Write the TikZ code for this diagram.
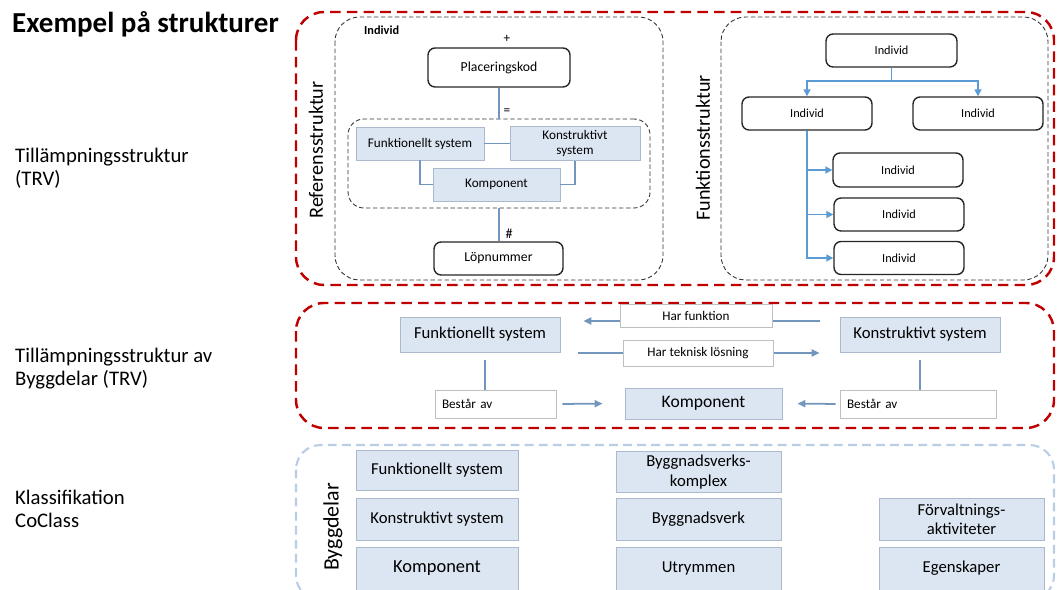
\documentclass[tikz,border=0pt]{standalone}
\usepackage{fontspec}
\setmainfont{Carlito}
\usetikzlibrary{arrows.meta,positioning,calc}
\definecolor{framered}{RGB}{192,0,0}
\definecolor{boxblue}{RGB}{220,230,242}
\definecolor{boxedge}{RGB}{170,185,205}
\definecolor{linkblue}{RGB}{91,155,213}
\definecolor{steelline}{RGB}{115,150,190}
\definecolor{paleframe}{RGB}{185,205,228}

\begin{document}
\begin{tikzpicture}[x=0.02cm, y=-0.02cm, >=latex,
  redframe/.style={draw=framered, line width=1.4pt, dash pattern=on 6pt off 3.5pt,
                   rounded corners=16pt},
  blackframe/.style={draw=black!80, line width=0.5pt, dash pattern=on 2.5pt off 1.5pt,
                     rounded corners=14pt},
  paleframe/.style={draw=paleframe, line width=1.2pt, dash pattern=on 5pt off 3pt,
                    rounded corners=14pt},
  ibox/.style={draw=black!85, line width=0.8pt, rounded corners=4pt, fill=white,
               inner sep=2pt, font=\fontsize{7.8}{9}\selectfont},
  bbox/.style={draw=boxedge, line width=0.5pt, fill=boxblue, align=center,
               inner sep=2pt},
  tag/.style={draw=black!25, line width=0.5pt, fill=white, inner sep=2pt},
  link/.style={draw=steelline, line width=1pt},
  tree/.style={draw=linkblue, line width=0.9pt, -{Triangle[length=4pt, width=4pt]}},
  rel/.style={draw=steelline, line width=1pt, -{Triangle[length=4.5pt, width=4pt]}},
  side/.style={anchor=west, align=left, font=\fontsize{11.8}{13}\selectfont},
  ]

\useasboundingbox (0,0) rectangle (1057,590);

% ======================================================================
% LEFT: title and row labels
% ======================================================================
\node[anchor=west, font=\bfseries\fontsize{16.5}{18}\selectfont]
  (title) at (6,24) {Exempel på strukturer};
\node[side] (rowA) at (9,168.5) {Tillämpningsstruktur\\(TRV)};
\node[side] (rowB) at (9,368.5) {Tillämpningsstruktur av\\Byggdelar (TRV)};
\node[side] (rowC) at (9,509) {Klassifikation\\CoClass};

% ======================================================================
% TOP: reference structure and function structure
% ======================================================================
\draw[redframe] (296,12) rectangle (1054,285);

% --- Referensstruktur ---
\draw[blackframe] (335,17) rectangle (663,280);
\node[rotate=90, font=\fontsize{11.5}{13}\selectfont]
  (reflabel) at (316,150) {Referensstruktur};
\node[anchor=west, font=\bfseries\fontsize{7}{8}\selectfont]
  (indlabel) at (358,30) {Individ};

\node[ibox, minimum width=2.84cm, minimum height=0.78cm]
  (plac) at (499,67.5) {Placeringskod};
\node[font=\fontsize{7.5}{8}\selectfont] (plus) at (507,39) {+};

\node[blackframe, rounded corners=9pt, minimum width=6.04cm, minimum height=1.78cm]
  (grp) at (499,163.5) {};
\node[bbox, minimum width=2.56cm, minimum height=0.66cm, font=\fontsize{7.5}{8}\selectfont]
  (funk) at (420,143.5) {Funktionellt system};
\node[bbox, minimum width=2.6cm, minimum height=0.66cm, font=\fontsize{7.5}{8.5}\selectfont]
  (konstr) at (575,143.5) {Konstruktivt\\system};
\node[bbox, minimum width=2.54cm, minimum height=0.66cm, font=\fontsize{7.5}{8}\selectfont]
  (komp) at (496.5,184.5) {Komponent};
\node[ibox, minimum width=2.58cm, minimum height=0.66cm]
  (lop) at (498.5,258.5) {Löpnummer};

\node[font=\fontsize{7.5}{8}\selectfont] (eq) at (507,112) {=};
\node[font=\fontsize{8}{9}\selectfont] (hash) at (509,234) {\#};

\draw[link] (plac.south) -- (grp.north);
\draw[link] (grp.south) -- (grp.south |- lop.north);
\draw[link] (funk.east) -- (konstr.west);
\draw[link] (funk.south) |- (komp.west);
\draw[link] (konstr.south) |- (komp.east);

% --- Funktionsstruktur ---
\draw[blackframe] (721,17) rectangle (1048,280);
\node[rotate=90, font=\fontsize{11.5}{13}\selectfont]
  (funclabel) at (703,148) {Funktionsstruktur};

\node[ibox, minimum width=2.62cm, minimum height=0.66cm, font=\fontsize{7}{8}\selectfont]
  (ind0) at (891.5,50.5) {Individ};
\node[ibox, minimum width=2.6cm, minimum height=0.66cm, font=\fontsize{7}{8}\selectfont]
  (ind1) at (807,113.5) {Individ};
\node[ibox, minimum width=2.6cm, minimum height=0.66cm, font=\fontsize{7}{8}\selectfont]
  (ind2) at (978,113.5) {Individ};
\node[ibox, minimum width=2.6cm, minimum height=0.68cm, font=\fontsize{7}{8}\selectfont]
  (ind3) at (898,170) {Individ};
\node[ibox, minimum width=2.6cm, minimum height=0.66cm, font=\fontsize{7}{8}\selectfont]
  (ind4) at (899,214.5) {Individ};
\node[ibox, minimum width=2.6cm, minimum height=0.66cm, font=\fontsize{7}{8}\selectfont]
  (ind5) at (899,258) {Individ};

\coordinate (split) at (891.5,81);
\draw[tree] (ind0.south) -- (split) -| (ind1.north);
\draw[tree] (split) -| (ind2.north);
\foreach \n in {ind3, ind4, ind5} {
  \draw[tree] (ind1.south) |- (\n.west);
}

% ======================================================================
% MIDDLE: building parts
% ======================================================================
\draw[redframe] (296,303) rectangle (1054,428);

\node[bbox, minimum width=3.2cm, minimum height=0.7cm, font=\fontsize{9.5}{10}\selectfont]
  (mfunk) at (480,334.5) {Funktionellt system};
\node[bbox, minimum width=3.2cm, minimum height=0.7cm, font=\fontsize{9.5}{10}\selectfont]
  (mkonstr) at (920,334.5) {Konstruktivt system};
\node[bbox, minimum width=3.14cm, minimum height=0.62cm, font=\fontsize{10}{11}\selectfont]
  (mkomp) at (703.5,403.5) {Komponent};

\draw[rel, shorten <=0.4cm, shorten >=0.46cm]
  ([yshift=0.27cm]mkonstr.west) -- ([yshift=0.27cm]mfunk.east);
\draw[rel, shorten <=0.36cm, shorten >=0.4cm]
  ([yshift=-0.37cm]mfunk.east) -- ([yshift=-0.37cm]mkonstr.west);

\node[tag, minimum width=3.04cm, minimum height=0.46cm, font=\fontsize{7.5}{8}\selectfont]
  (harfunk) at (696,315.5) {Har funktion};
\node[tag, minimum width=3.0cm, minimum height=0.52cm, font=\fontsize{7.5}{8}\selectfont]
  (harlos) at (698,353) {Har teknisk lösning};

\node[tag, text width=2.14cm, inner xsep=4pt, minimum height=0.56cm, align=left,
      font=\fontsize{7.5}{8}\selectfont]
  (bestA) at (495.5,404) {Består av};
\node[tag, text width=2.84cm, inner xsep=4pt, minimum height=0.56cm, align=left,
      font=\fontsize{7.5}{8}\selectfont]
  (bestB) at (918,404) {Består av};

\draw[link, shorten <=0.16cm] ([xshift=0.1cm]mfunk.south)
  -- ([xshift=0.1cm]mfunk.south |- bestA.north);
\draw[link, shorten <=0.16cm] (mkonstr.south) -- (mkonstr.south |- bestB.north);
\draw[rel, shorten <=0.12cm, shorten >=0.44cm] (bestA.east) -- (mkomp.west);
\draw[rel, shorten <=0.08cm, shorten >=0.3cm] (bestB.west) -- (mkomp.east);

% ======================================================================
% BOTTOM: CoClass classification
% ======================================================================
\draw[paleframe] (296,445) rectangle (1054,600);
\node[rotate=90, font=\fontsize{12.5}{14}\selectfont]
  (byggdelar) at (333,527) {Byggdelar};

\def\colA{437}
\def\colB{698.5}
\def\colC{961.5}

\node[bbox, minimum width=3.24cm, minimum height=0.8cm, font=\fontsize{9.5}{10}\selectfont]
  (cfunk) at (\colA,470) {Funktionellt system};
\node[bbox, minimum width=3.24cm, minimum height=0.84cm, font=\fontsize{9.5}{10}\selectfont]
  (ckonstr) at (\colA,519) {Konstruktivt system};
\node[bbox, minimum width=3.24cm, minimum height=0.86cm, font=\fontsize{10.5}{12}\selectfont]
  (ckomp) at (\colA,568.5) {Komponent};

\node[bbox, minimum width=3.3cm, minimum height=0.8cm, font=\fontsize{9.5}{11}\selectfont]
  (ckomplex) at (\colB,472) {Byggnadsverks-\\komplex};
\node[bbox, minimum width=3.3cm, minimum height=0.84cm, font=\fontsize{9.5}{10}\selectfont]
  (cverk) at (\colB,519) {Byggnadsverk};
\node[bbox, minimum width=3.3cm, minimum height=0.86cm, font=\fontsize{9.5}{10}\selectfont]
  (cutrymme) at (\colB,568.5) {Utrymmen};

\node[bbox, minimum width=3.3cm, minimum height=0.84cm, font=\fontsize{9.5}{11}\selectfont]
  (cforv) at (\colC,519) {Förvaltnings-\\aktiviteter};
\node[bbox, minimum width=3.3cm, minimum height=0.86cm, font=\fontsize{9.5}{10}\selectfont]
  (cegen) at (\colC,568.5) {Egenskaper};

\end{tikzpicture}
\end{document}
